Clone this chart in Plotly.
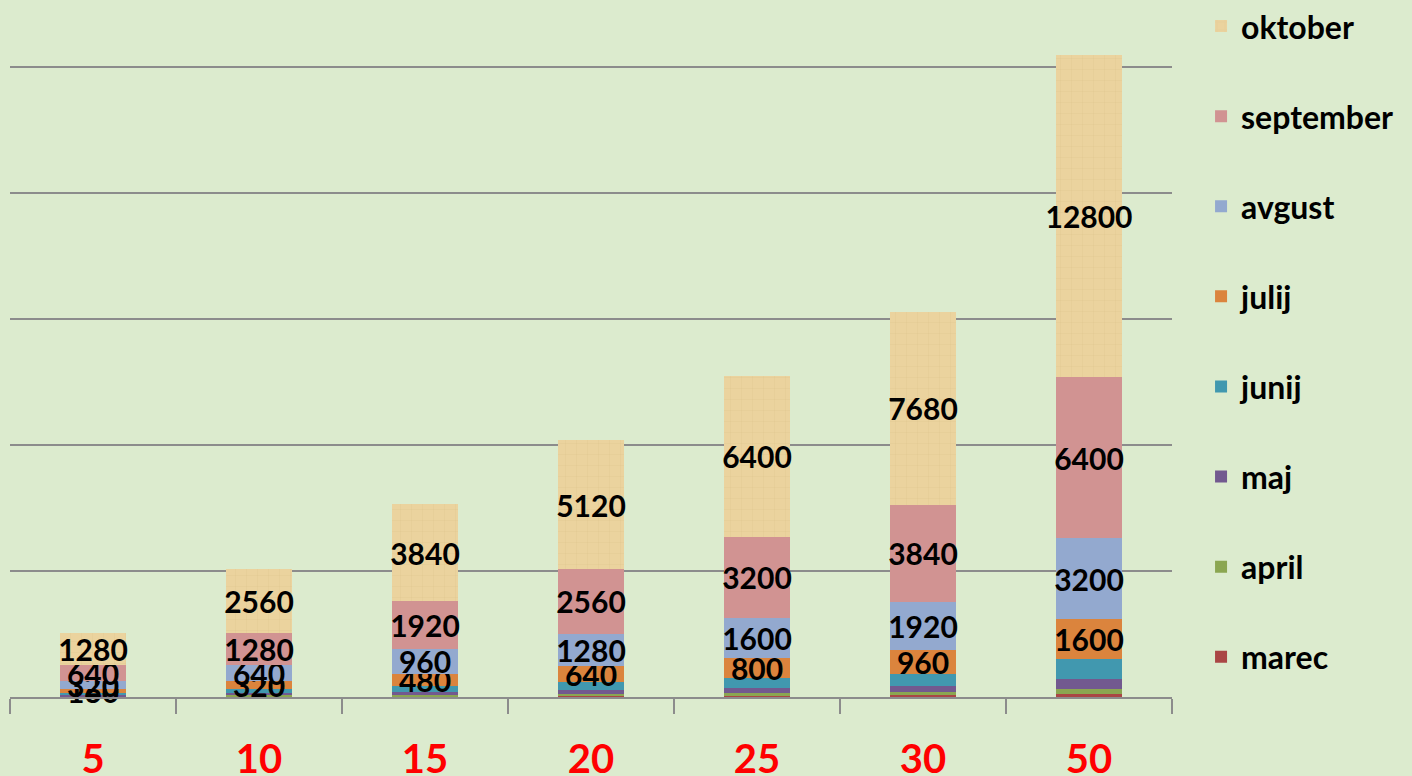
import plotly.graph_objects as go

categories = ["5", "10", "15", "20", "25", "30", "50"]
series_names = ["marec", "april", "maj", "junij", "julij", "avgust", "september", "oktober"]
marec = [10, 20, 30, 40, 50, 60, 100]
april = [20, 40, 60, 80, 100, 120, 200]
maj = [40, 80, 120, 160, 200, 240, 400]
junij = [80, 160, 240, 320, 400, 480, 800]
julij = [160, 320, 480, 640, 800, 960, 1600]
avgust = [320, 640, 960, 1280, 1600, 1920, 3200]
september = [640, 1280, 1920, 2560, 3200, 3840, 6400]
oktober = [1280, 2560, 3840, 5120, 6400, 7680, 12800]
series_values = [marec, april, maj, junij, julij, avgust, september, oktober]
labelled = ["julij", "avgust", "september", "oktober"]

colors = {
    "marec": "#AA4645",
    "april": "#8BA651",
    "maj": "#72598F",
    "junij": "#4198AF",
    "julij": "#DB843D",
    "avgust": "#93A9CF",
    "september": "#D19392",
    "oktober": "#EBD39E",
}

FONT = "Lato"
fig = go.Figure()
n = len(series_names)
for i, (name, vals) in enumerate(zip(series_names, series_values)):
    marker = dict(color=colors[name], line=dict(width=0))
    if name == "oktober":
        marker["pattern"] = dict(shape="+", fgcolor="#D6BC84", size=11, solidity=0.08, fgopacity=0.45)
    fig.add_trace(go.Bar(
        x=categories, y=vals, name=name,
        marker=marker,
        legendgroup=name,
        legendrank=n - i,
        text=[str(v) for v in vals] if name in labelled else None,
        textposition="inside" if name in labelled else "none",
        insidetextanchor="middle",
        textangle=0,
        textfont=dict(family=FONT, size=30, color="black", weight="bold"),
        cliponaxis=False,
        hoverinfo="x+y+name",
    ))

fig.update_layout(
    barmode="stack",
    bargap=0.6,
    width=1412, height=776,
    paper_bgcolor="#DCEBCE",
    plot_bgcolor="#DCEBCE",
    margin=dict(l=10, r=240, t=42, b=79, autoexpand=False),
    uniformtext=dict(minsize=30, mode="show"),
    font=dict(family=FONT, size=30, color="black"),
    legend=dict(
        traceorder="grouped",
        x=1.025, xanchor="left", y=1.066, yanchor="top",
        font=dict(family=FONT, size=32, color="black", weight="bold"),
        tracegroupgap=45.5,
        itemwidth=30,
        maxheight=776,
        bgcolor="rgba(0,0,0,0)",
    ),
    showlegend=True,
)
fig.update_yaxes(
    range=[0, 26000], tick0=0, dtick=5000,
    showgrid=True, gridcolor="#8C8C8C", gridwidth=2,
    showticklabels=False, zeroline=False, showline=False,
    automargin=False,
)
fig.update_xaxes(
    type="category",
    showline=True, linecolor="#8C8C8C", linewidth=2,
    ticks="outside", tickson="boundaries", ticklen=15, tickcolor="#8C8C8C", tickwidth=2,
    tickfont=dict(family=FONT, size=40, color="#FF0000", weight="bold"),
    ticklabelstandoff=26,
    showgrid=False,
    automargin=False,
)

fig.write_html(
    "out.html",
    config={"displayModeBar": False},
    post_script="document.body.style.margin='0';document.body.style.overflow='hidden';",
)
